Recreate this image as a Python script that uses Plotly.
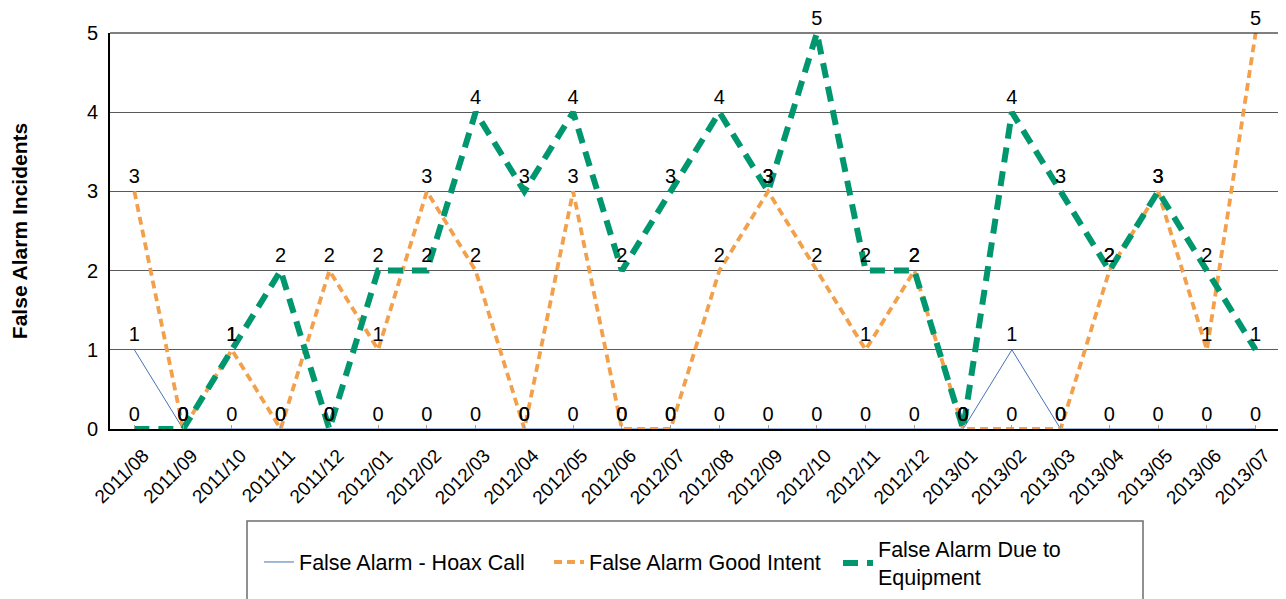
import plotly.graph_objects as go

months = ["2011/08", "2011/09", "2011/10", "2011/11", "2011/12", "2012/01", "2012/02",
          "2012/03", "2012/04", "2012/05", "2012/06", "2012/07", "2012/08", "2012/09",
          "2012/10", "2012/11", "2012/12", "2013/01", "2013/02", "2013/03", "2013/04",
          "2013/05", "2013/06", "2013/07"]
hoax_call = [1, 0, 0, 0, 0, 0, 0, 0, 0, 0, 0, 0, 0, 0, 0, 0, 0, 0, 1, 0, 0, 0, 0, 0]
good_intent = [3, 0, 1, 0, 2, 1, 3, 2, 0, 3, 0, 0, 2, 3, 2, 1, 2, 0, 0, 0, 2, 3, 1, 5]
equipment = [0, 0, 1, 2, 0, 2, 2, 4, 3, 4, 2, 3, 4, 3, 5, 2, 2, 0, 4, 3, 2, 3, 2, 1]
y_ticks = [0, 1, 2, 3, 4, 5]

FONT = "Liberation Sans, Arial, sans-serif"
OFF = 8  # page body margin
W, H = 1286 - OFF, 599 - OFF
# plot area in page pixels: x 110..1280, y 33..429
ML, MR, MT, MB = 110 - OFF, 6, 33 - OFF, 170
PW = W - ML - MR
PH = H - MT - MB

def px_x(p):
    return (p - OFF - ML) / PW

def px_y(p):
    return (MT + PH - (p - OFF)) / PH

fig = go.Figure()

series = [
    ("False Alarm - Hoax Call", hoax_call, dict(color="#4672b4", width=1, dash="solid"), "legend"),
    ("False Alarm Good Intent", good_intent, dict(color="#f2a04c", width=3.8, dash="8px,5px"), "legend"),
    ("False Alarm Due to<br>Equipment", equipment, dict(color="#00966e", width=6, dash="15px,9px"), "legend2"),
]

for name, vals, line, lg in series:
    fig.add_trace(go.Scatter(x=months, y=vals, mode="lines", name=name, line=line, legend=lg,
                             hoverinfo="skip", cliponaxis=False))

for name, vals, line, lg in series:
    fig.add_trace(go.Scatter(x=months, y=vals, mode="markers+text", showlegend=False,
                             text=[str(v) for v in vals], textposition="top center",
                             marker=dict(size=4, color="rgba(0,0,0,0)"),
                             textfont=dict(family=FONT, size=20, color="black"),
                             hoverinfo="skip", cliponaxis=False))

# top and right border of plot area
fig.add_shape(type="line", xref="paper", yref="paper", x0=0, x1=1, y0=1, y1=1,
              line=dict(color="black", width=1))
fig.add_shape(type="line", xref="paper", yref="paper", x0=1, x1=1, y0=0, y1=1,
              line=dict(color="#808080", width=1))
# legend box
fig.add_shape(type="rect", xref="paper", yref="paper",
              x0=px_x(247), x1=px_x(1143), y0=px_y(620), y1=px_y(521),
              line=dict(color="#6e6e6e", width=1.5), layer="above")

legend_common = dict(orientation="h", xanchor="left", yanchor="middle",
                     font=dict(family=FONT, size=21.5, color="black"),
                     bgcolor="rgba(0,0,0,0)", borderwidth=0, valign="middle")

fig.update_layout(
    width=W, height=H,
    margin=dict(l=ML, r=MR, t=MT, b=MB, autoexpand=False),
    paper_bgcolor="white", plot_bgcolor="white",
    font=dict(family=FONT, color="black"),
    showlegend=True,
    legend=dict(x=px_x(259), y=px_y(562), entrywidth=245, entrywidthmode="pixels", **legend_common),
    legend2=dict(x=px_x(838), y=px_y(563), **legend_common),
    xaxis=dict(type="category", range=[-0.5, 23.5], showgrid=False,
               showline=True, linecolor="black", linewidth=2,
               ticks="inside", ticklen=4, tickcolor="#a0a0a0",
               tickangle=-45, tickfont=dict(family=FONT, size=19, color="black"),
               ticklabelstandoff=6, ticklabelshift=9,
               automargin=False),
    yaxis=dict(range=[0, 5], tickvals=y_ticks, showgrid=True, gridcolor="#5a5a5a", gridwidth=1,
               zeroline=False, showline=True, linecolor="black", linewidth=2,
               ticks="", tickfont=dict(family=FONT, size=20, color="black"),
               ticklabelstandoff=6,
               title=dict(text="<b>False Alarm Incidents</b>", font=dict(family=FONT, size=21, color="black"),
                          standoff=54),
               automargin=False),
)

fig.write_html("out.html")
